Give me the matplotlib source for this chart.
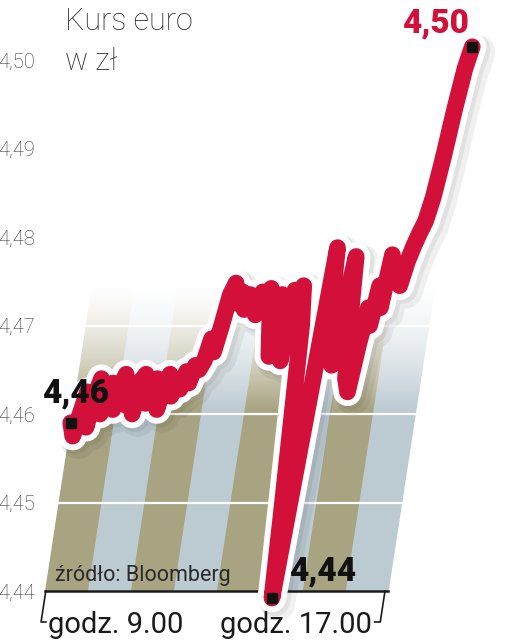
import numpy as np
import matplotlib.pyplot as plt
import matplotlib.patheffects as pe
from matplotlib.transforms import Affine2D

# kurs euro w ciągu dnia (odczyt z wykresu, kolejne notowania)
kurs = [4.4590, 4.4575, 4.4600, 4.4625, 4.4585, 4.4620, 4.4640, 4.4600, 4.4615, 4.4635,
        4.4605, 4.4630, 4.4645, 4.4610, 4.4625, 4.4600, 4.4638, 4.4645, 4.4612, 4.4630,
        4.4640, 4.4605, 4.4632, 4.4645, 4.4620, 4.4638, 4.4628, 4.4648, 4.4635, 4.4655,
        4.4650, 4.4660, 4.4685, 4.4670, 4.4700, 4.4735, 4.4748, 4.4725, 4.4738, 4.4718,
        4.4735, 4.4728, 4.4712, 4.4738, 4.4730, 4.4742, 4.4700, 4.4665, 4.4735, 4.4728,
        4.4660, 4.4740, 4.4730, 4.4745, 4.4700, 4.4600, 4.4500, 4.4392, 4.4520, 4.4650,
        4.4788, 4.4700, 4.4740, 4.4655, 4.4720, 4.4778, 4.4700, 4.4640, 4.4625, 4.4680,
        4.4720, 4.4700, 4.4745, 4.4720, 4.4780, 4.4750, 4.4765, 4.4745, 4.4772, 4.4790,
        4.4805, 4.4818, 4.4845, 4.4890, 4.4945, 4.4990, 4.5015]
notowania = np.arange(len(kurs))
poziomy = [4.44, 4.45, 4.46, 4.47, 4.48, 4.49, 4.50]
godziny = ['godz. 9.00', 'godz. 17.00']

czerwony = '#d2103a'
oliwkowy = (0.660, 0.640, 0.505)
niebieski = (0.741, 0.796, 0.824)

fig = plt.figure(figsize=(5.14, 6.4), dpi=100)
ax = fig.add_axes([45 / 514, 49 / 640, 343 / 514, 571 / 640])
x_max = 85.75
y_max = 4.44 + 571 / 8850

# cały wykres jest pochylony w prawo
k = 0.153 * 8850 / 4
skos = Affine2D(np.array([[1, k, -k * 4.44], [0, 1, 0], [0, 0, 1]])) + ax.transData

# tło w paski, zanikające ku górze
kol, wie = 344, 200
v = np.linspace(4.44, 4.48, wie)
alfa = np.clip((4.475 - v) / 0.0145, 0, 1) ** 1.5
tlo = np.ones((wie, kol, 4))
pasy = (np.arange(kol) // 43) % 2
for i in range(3):
    tlo[:, :, i] = np.where(pasy == 0, oliwkowy[i], niebieski[i])[None, :]
tlo[:, :, 3] = alfa[:, None]
ax.imshow(tlo, extent=(0, x_max, 4.44, 4.48), origin='lower', aspect='auto',
          transform=skos, interpolation='bilinear', zorder=0, clip_on=False)

for p in poziomy[1:4]:
    ax.plot([0, x_max], [p, p], color='white', lw=1.6, transform=skos, clip_on=False, zorder=1)
ax.plot([0, x_max], [4.44, 4.44], color='#1a1a1a', lw=1.8, transform=skos, clip_on=False, zorder=2)
dol = 4.44 - 31 / 8850
ax.plot([0.2, 0.2, 1.4], [4.44, dol, dol], color='#1a1a1a', lw=1.2, transform=skos, clip_on=False)
ax.plot([85.0, 85.0, 83.6], [4.44, dol, dol], color='#1a1a1a', lw=1.2, transform=skos, clip_on=False)

# linia kursu z białą obwódką i cieniem
ax.plot(notowania, kurs, color=czerwony, lw=12, solid_joinstyle='round', solid_capstyle='round',
        transform=skos, clip_on=False, zorder=3,
        path_effects=[pe.SimpleLineShadow(offset=(4, -4), shadow_color='black', alpha=0.06, linewidth=25),
                      pe.SimpleLineShadow(offset=(2, -2), shadow_color='black', alpha=0.06, linewidth=22),
                      pe.Stroke(linewidth=20.5, foreground='white'),
                      pe.Normal()])

imin = int(np.argmin(kurs))
wazne = [0, imin, len(kurs) - 1]
ax.plot(notowania[wazne], [kurs[i] for i in wazne], 's', color='#111111', ms=7,
        transform=skos, clip_on=False, zorder=4)

def etykieta(i, dx, dy, kolor):
    ax.annotate(f'{kurs[i]:.2f}'.replace('.', ','), xy=(notowania[i], kurs[i]), xycoords=skos,
                xytext=(dx, dy), textcoords='offset pixels', ha='left', va='baseline',
                fontsize=24, fontweight='heavy', family='Roboto', color=kolor, zorder=5)

etykieta(0, -29, 20, '#111111')
etykieta(imin, 17, 18, '#111111')
etykieta(len(kurs) - 1, -70, 14, czerwony)

ax.set_xlim(0, x_max)
ax.set_ylim(4.44, y_max)
ax.set_yticks(poziomy)
ax.set_yticklabels([f'{p:.2f}'.replace('.', ',') for p in poziomy], fontsize=14.5,
                   color='#333333', family='Roboto', fontweight='light')
ax.tick_params(length=0, pad=7)
ax.set_xticks([])
for s in ax.spines.values():
    s.set_visible(False)
ax.patch.set_visible(False)

fig.text(65 / 514, 1 - 30 / 640, 'Kurs euro', fontsize=22, color='#2a2a2a', family='Roboto',
         fontweight='light', va='baseline')
fig.text(65 / 514, 1 - 70 / 640, 'w zł', fontsize=22, color='#2a2a2a', family='Roboto',
         fontweight='light', va='baseline')
fig.text(55 / 514, 1 - 581 / 640, 'źródło: Bloomberg', fontsize=15.5, color='#2a2a2a',
         family='Roboto', va='baseline')
fig.text(116 / 514, 1 - 633 / 640, godziny[0], fontsize=21, color='#1a1a1a', family='Roboto',
         ha='center', va='baseline')
fig.text(296 / 514, 1 - 633 / 640, godziny[1], fontsize=21, color='#1a1a1a', family='Roboto',
         ha='center', va='baseline')

fig.savefig('out.png', dpi=100)
